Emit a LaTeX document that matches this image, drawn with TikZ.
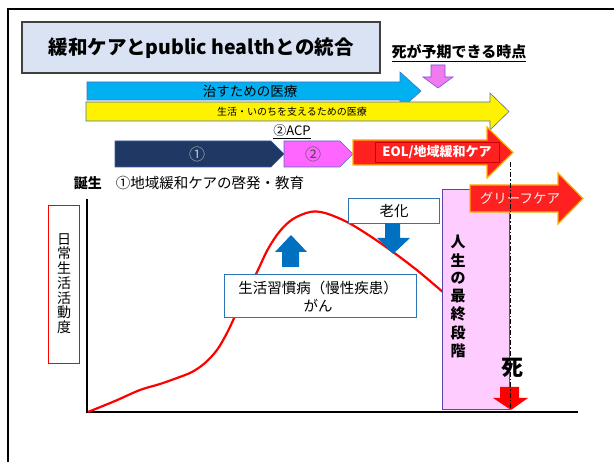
\documentclass[tikz,border=0pt]{standalone}
\usepackage{fontspec}
\setmainfont{Noto Sans CJK JP}
\newcommand{\myfs}[1]{\fontsize{#1}{#1}\selectfont}
\definecolor{titlefill}{HTML}{DAE3F3}
\definecolor{cureblue}{HTML}{00B0F0}
\definecolor{navy}{HTML}{203864}
\definecolor{magent}{HTML}{FF66FF}
\definecolor{eolred}{HTML}{FF2020}
\definecolor{glow}{HTML}{FFB000}
\definecolor{pinkarrow}{HTML}{F07AF0}
\definecolor{pinkbox}{HTML}{FFCCFF}
\definecolor{boxblue}{HTML}{2E75B6}
\definecolor{arrowblue}{HTML}{0070C0}
\definecolor{edgeblue}{HTML}{4472C4}
\begin{document}
\begin{tikzpicture}[x=1pt,y=-1pt,
  shapeedge/.style={draw=edgeblue,line width=0.6pt},
  whitebox/.style={draw=boxblue,fill=white,line width=0.9pt},
  lbl/.style={inner sep=0pt,align=center}]
\useasboundingbox (0,0) rectangle (614,462);
% frame
\draw[line width=2.5pt] (614,9) -- (8,9) -- (8,462);
% title
\draw[fill=titlefill,draw=black!75,line width=1.1pt] (22,22) rectangle (380,73);
\node[lbl,font=\myfs{19.5}\bfseries] (title) at (201,48) {緩和ケアとpublic healthとの統合};
\node[lbl,font=\myfs{15}\bfseries] (deathtime) at (459,53) {\underline{死が予期できる時点}};
% pink down arrow
\draw[fill=pinkarrow,draw=edgeblue!70!magenta,line width=0.6pt] (431,65) -- (445,65) -- (445,77) -- (453,77) -- (438,88) -- (423,77) -- (431,77) -- cycle;
% cure arrow
\draw[shapeedge,fill=cureblue] (87,82) -- (400,82) -- (400,72) -- (421,91) -- (400,110) -- (400,100) -- (87,100) -- cycle;
\node[lbl,font=\myfs{13.5}] (cure) at (250,91) {治すための医療};
% life arrow
\draw[shapeedge,fill=yellow] (86,102) -- (490,102) -- (490,93) -- (509,111.5) -- (490,130) -- (490,121) -- (86,121) -- cycle;
\node[lbl,font=\myfs{10}] (life) at (292,112) {生活・いのちを支えるための医療};
\node[lbl,font=\myfs{13}] (acp) at (292,132) {\underline{②ACP}};
% step shapes
\draw[draw=edgeblue!60!navy,line width=0.6pt,fill=navy] (115,141) -- (271,141) -- (284,154) -- (271,167) -- (115,167) -- cycle;
\node[lbl,text=black!25,font=\myfs{16}] (one) at (197,154) {①};
\draw[shapeedge,fill=magent] (284,141) -- (340,141) -- (353,154) -- (340,167) -- (284,167) -- cycle;
\node[lbl,text=black!70,font=\myfs{16}] (two) at (313,154) {②};
\draw[draw=glow,line width=1.2pt,fill=eolred] (353,140) -- (487,140) -- (487,127) -- (513,152.5) -- (487,178) -- (487,165) -- (353,165) -- cycle;
\draw[draw=red!80!black,line width=0.5pt] (375,142) rectangle (499,162);
\node[lbl,text=white,font=\myfs{13}\bfseries] (eol) at (437,152) {EOL/地域緩和ケア};
% birth line
\node[lbl,font=\myfs{14}\bfseries] (birth) at (88,183) {誕生};
\node[lbl,font=\myfs{14.5}] (edu) at (210,183) {①地域緩和ケアの啓発・教育};
% y label
\draw[draw=red,fill=white,line width=0.7pt] (48,205) rectangle (79,363);
\node[lbl,font=\myfs{14}] (ylab) at (64,285) {\begin{tabular}{@{}c@{}}日\\[-1.2pt]常\\[-1.2pt]生\\[-1.2pt]活\\[-1.2pt]活\\[-1.2pt]動\\[-1.2pt]度\end{tabular}};
% axes
\draw[line width=1.3pt] (87,199) -- (87,412) -- (578,412);
% curve
\draw[red,line width=2.2pt,line join=round] plot[smooth,tension=0.55] coordinates {(88,412) (115,401) (140,390) (160,384) (177,378) (192,372) (205,363) (217,350) (227,333) (236,314) (246,293) (257,272) (268,249) (280,231) (293,219) (310,212) (325,213) (347,222) (370,236) (393,252) (418,271) (444,293)};
% up arrow
\fill[arrowblue] (282,267) -- (282,252) -- (275,252) -- (291,235) -- (307,252) -- (299,252) -- (299,267) -- cycle;
% disease box
\draw[whitebox] (224,274) rectangle (416,317);
\node[lbl,font=\myfs{14.5}] (dis) at (318,297) {生活習慣病（慢性疾患）\\[3.5pt]がん};
% aging box and arrow
\draw[whitebox] (348,198) rectangle (439,223);
\node[lbl,font=\myfs{14.5}] (aging) at (394,211) {老化};
\fill[arrowblue] (385,223.5) -- (400,223.5) -- (400,238) -- (410,238) -- (393,254) -- (377,238) -- (385,238) -- cycle;
% final stage box
\draw[draw=edgeblue!60!violet,fill=pinkbox,line width=0.8pt] (442,189) rectangle (509,409);
\node[lbl,font=\myfs{15}\bfseries] (final) at (458,298) {\begin{tabular}{@{}c@{}}人\\[1.2pt]生\\[1.2pt]の\\[1.2pt]最\\[1.2pt]終\\[1.2pt]段\\[1.2pt]階\end{tabular}};
% grief arrow
\draw[draw=glow,line width=1.2pt,fill=eolred] (470,185) -- (558,185) -- (558,173) -- (583,198.5) -- (558,224) -- (558,212) -- (470,212) -- cycle;
\node[lbl,text=white!95!black,font=\myfs{13.5}] (grief) at (520,198) {グリーフケア};
% death
\node[lbl,font=\myfs{22}\bfseries] (death) at (512,368) {死};
\fill[red] (500,387) -- (519,387) -- (519,398) -- (528,398) -- (511,410) -- (493,398) -- (500,398) -- cycle;
\coordinate (dtop) at (510,162);
\coordinate (dbot) at (510,410);
\draw[line width=0.9pt,dash pattern=on 5pt off 2pt on 1.5pt off 2pt] (dtop) -- (dbot);
\end{tikzpicture}
\end{document}
